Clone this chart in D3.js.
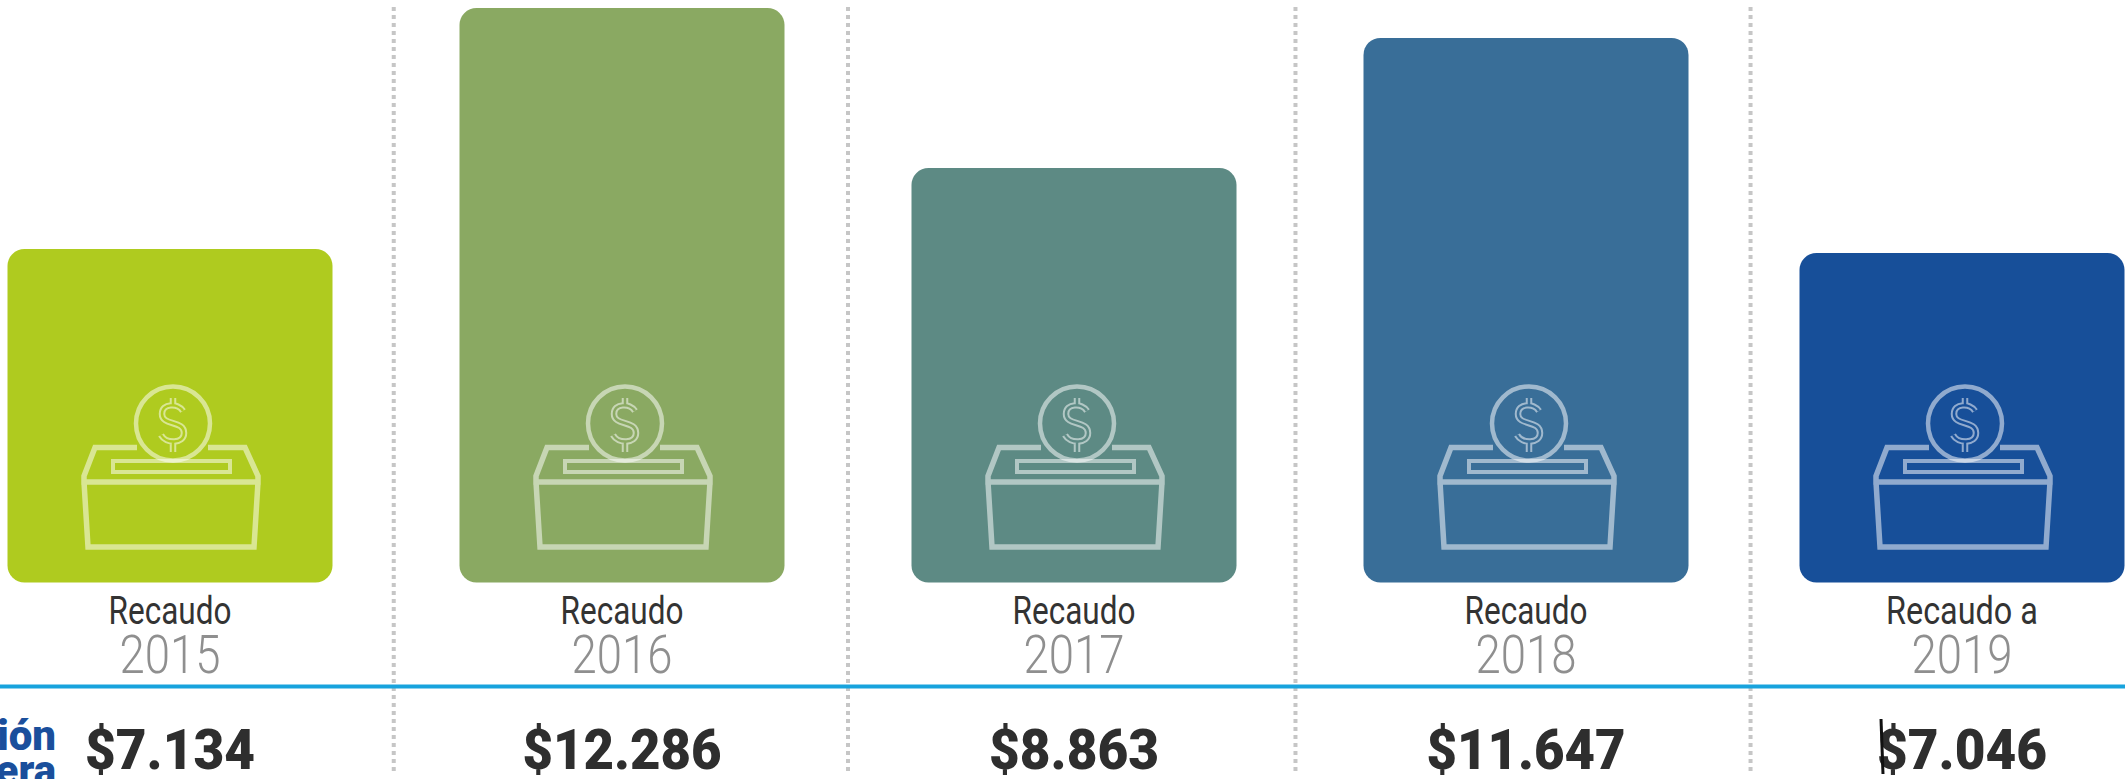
<!DOCTYPE html>
<html><head><meta charset="utf-8">
<script src="https://cdn.jsdelivr.net/npm/d3@7"></script>
<style>html,body{margin:0;padding:0;background:#fff;overflow:hidden}svg{display:block}</style>
</head><body><svg id="c" width="2126" height="779"></svg>
<script>
const years = ["2015","2016","2017","2018","2019"];
const headings = ["Recaudo","Recaudo","Recaudo","Recaudo","Recaudo a"];
const values = [7134,12286,8863,11647,7046];
const valueLabels = ["$7.134","$12.286","$8.863","$11.647","$7.046"];
const colors = ["#afcb1f","#8aa962","#5d8a84","#396e98","#174f99"];
const separators = [0.495,1.5,2.49,3.515];
const leftLabel = ["ión","era"];
const svg = d3.select("#c");
const font = "Roboto,'Noto Sans',sans-serif";
const x = d3.scaleLinear().domain([0,3,4]).range([170,1526,1962]);
const y = d3.scaleLinear().domain([0,12286]).range([582.5,8]);
const barW = 325;

svg.selectAll("line.sep").data(separators).join("line").attr("class","sep")
  .attr("x1",d=>x(d)).attr("x2",d=>x(d)).attr("y1",7).attr("y2",774)
  .attr("stroke","#c6c6c6").attr("stroke-width",4).attr("stroke-dasharray","4 4");

svg.append("line").attr("x1",0).attr("x2",2125).attr("y1",686.5).attr("y2",686.5)
  .attr("stroke","#18a3dd").attr("stroke-width",4);

const g = svg.selectAll("g.col").data(values).join("g").attr("class","col");
g.append("rect").attr("x",(d,i)=>x(i)-barW/2).attr("width",barW)
  .attr("y",d=>y(d)).attr("height",d=>y(0)-y(d)).attr("rx",17)
  .attr("fill",(d,i)=>colors[i]);

// ballot box icon, drawn relative to each column centre
const icon = g.append("g").attr("transform",(d,i)=>`translate(${x(i)+3},0)`).attr("fill","none");
const ink = "rgba(255,255,255,.52)";
icon.append("path").attr("stroke",ink).attr("stroke-width",5.5).attr("stroke-linejoin","miter")
  .attr("d","M-36,447.5H-78L-89,476V482H85V476L72,447.5H35M-89,482L-85,547H81L85,482");
icon.append("rect").attr("x",-60).attr("y",461).attr("width",117).attr("height",11)
  .attr("stroke",ink).attr("stroke-width",4);
icon.append("circle").attr("cy",423.5).attr("r",37).attr("stroke",ink).attr("stroke-width",4.5);
const sPath = "M10,411C5,403 -11,403 -11,414C-11,426 11,420 11,433C11,444 -7,444 -12,435M0,398V405M0,441V452";
icon.append("path").attr("stroke",ink).attr("stroke-width",6.5).attr("d",sPath);
icon.append("path").attr("stroke",(d,i)=>colors[i]).attr("stroke-width",2.5).attr("d",sPath);

const T = (cls,txt,yy,size,w,fill,weight) => g.append("text").attr("class",cls)
  .attr("x",(d,i)=>x(i)).attr("y",yy).attr("text-anchor","middle")
  .attr("font-family",font).attr("font-size",size).attr("font-weight",weight)
  .attr("fill",fill).attr("textLength",(d,i)=>w(i)).attr("lengthAdjust","spacingAndGlyphs")
  .text((d,i)=>txt[i]);
T("h",headings,623.5,39,i=>i==4?152:123,"#333333",400);
T("yr",years,672.5,54,()=>101,"#8f8f8f",300);
T("val",valueLabels,768.5,56,i=>(i==1||i==3)?199:170,"#2e2e2e",900);

svg.selectAll("text.left").data(leftLabel).join("text").attr("class","left")
  .attr("x",56).attr("y",(d,i)=>750+i*35).attr("text-anchor","end")
  .attr("font-family",font).attr("font-size",42).attr("font-weight",900)
  .attr("fill","#1a4f9c").text(d=>d);

svg.append("line").attr("x1",1881).attr("x2",1883).attr("y1",719).attr("y2",774)
  .attr("stroke","#111").attr("stroke-width",3);
</script></body></html>
